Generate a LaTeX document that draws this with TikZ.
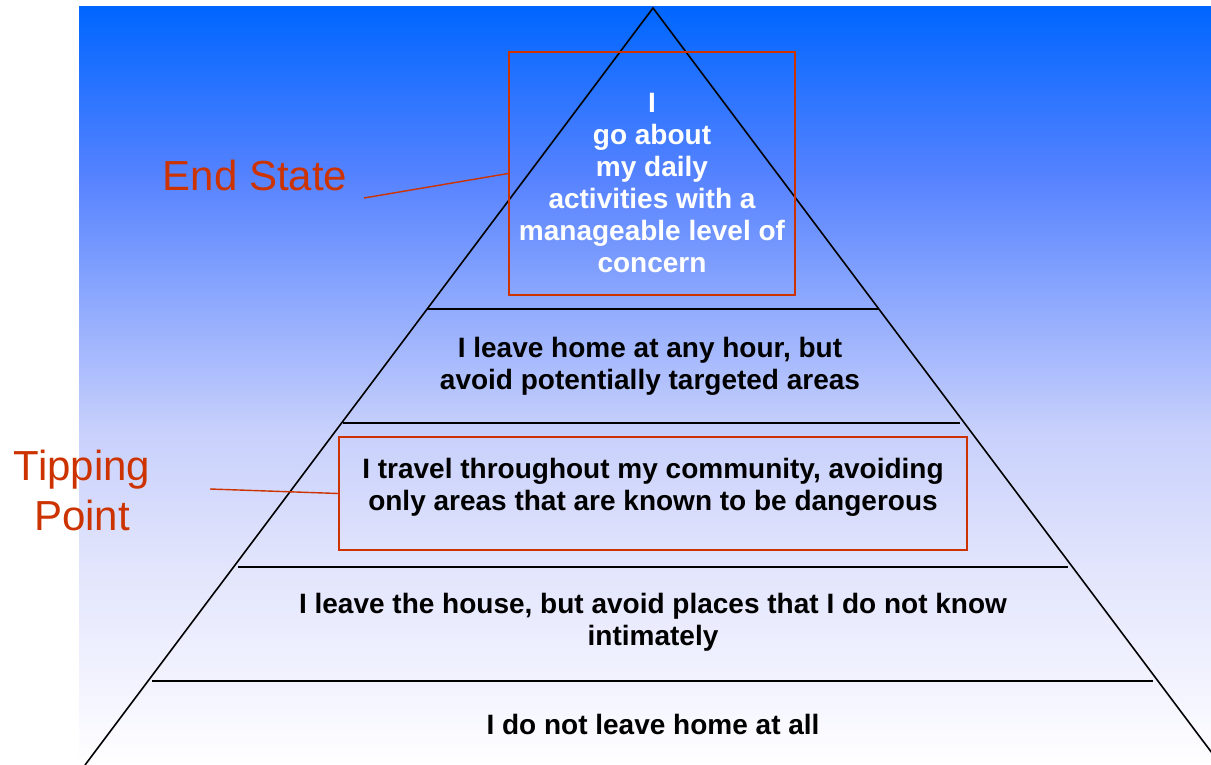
\documentclass[tikz,border=0pt]{standalone}
\usepackage{fontspec}
\setmainfont{Liberation Sans}
\definecolor{bgblue}{RGB}{0,102,255}
\definecolor{ppred}{RGB}{204,51,0}
\pgfdeclareverticalshading{bgshade}{100bp}{
  rgb(0bp)=(1,1,1);
  rgb(25bp)=(1,1,1);
  rgb(29.3bp)=(0.961,0.961,1);
  rgb(38.5bp)=(0.882,0.894,0.988);
  rgb(47.1bp)=(0.784,0.816,0.988);
  rgb(63.9bp)=(0.333,0.51,1);
  rgb(75bp)=(0,0.4,1);
  rgb(100bp)=(0,0.4,1)}
\begin{document}
\begin{tikzpicture}[x=1pt,y=-1pt,
  tier/.style={font=\fontsize{28}{32}\selectfont\bfseries, align=center, inner sep=0pt},
  sidelabel/.style={font=\fontsize{42}{50}\selectfont, text=ppred, align=center, inner sep=0pt},
  redbox/.style={draw=ppred, line width=1.6pt, inner sep=0pt},
  tierline/.style={line width=1.6pt, black},
  pointer/.style={draw=ppred, line width=1.4pt}]
\useasboundingbox (0,0) rectangle (1211,765);
% background
\shade[shading=bgshade] (79,7) rectangle (1211,765);
% pyramid sides
\begin{scope}
\clip (79,7) rectangle (1211,765);
\coordinate (apex) at (653,8);
\coordinate (bl) at (85,765);
\coordinate (br) at (1221,765);
\draw[tierline] (bl) -- (apex) -- (br);
\end{scope}
% tier separators
\coordinate (s1l) at (427,309); \coordinate (s1r) at (879,309);
\coordinate (s2l) at (343,423); \coordinate (s2r) at (960,423);
\coordinate (s3l) at (238,567); \coordinate (s3r) at (1068,567);
\coordinate (s4l) at (152,681); \coordinate (s4r) at (1153,681);
\draw[tierline] (s1l) -- (s1r);
\draw[tierline] (s2l) -- (s2r);
\draw[tierline] (s3l) -- (s3r);
\draw[tierline] (s4l) -- (s4r);
% red boxes
\node[redbox, minimum width=286pt, minimum height=243pt] (endbox) at (652,173.5) {};
\node[redbox, minimum width=628pt, minimum height=113pt] (tipbox) at (653,493.5) {};
% tier texts
\node[tier, text=white] (t5) at (652,183) {I\\go about\\my daily\\activities with a\\manageable level of\\concern};
\node[tier] (t4) at (650,366) {I leave home at any hour, but\\avoid potentially targeted areas};
\node[tier] (t3) at (653,487) {I travel throughout my community, avoiding\\only areas that are known to be dangerous};
\node[tier] (t2) at (653,622) {I leave the house, but avoid places that I do not know\\intimately};
\node[tier] (t1) at (653,724) {I do not leave home at all};
% side labels
\node[sidelabel] (lend) at (255,175) {End State};
\node[sidelabel] (ltip) at (82,490) {Tipping\\Point};
\coordinate (pend) at (364,198);
\coordinate (ptip) at (210,489);
\draw[pointer] (pend) -- (endbox.west);
\draw[pointer] (ptip) -- (tipbox.west);
\end{tikzpicture}
\end{document}
